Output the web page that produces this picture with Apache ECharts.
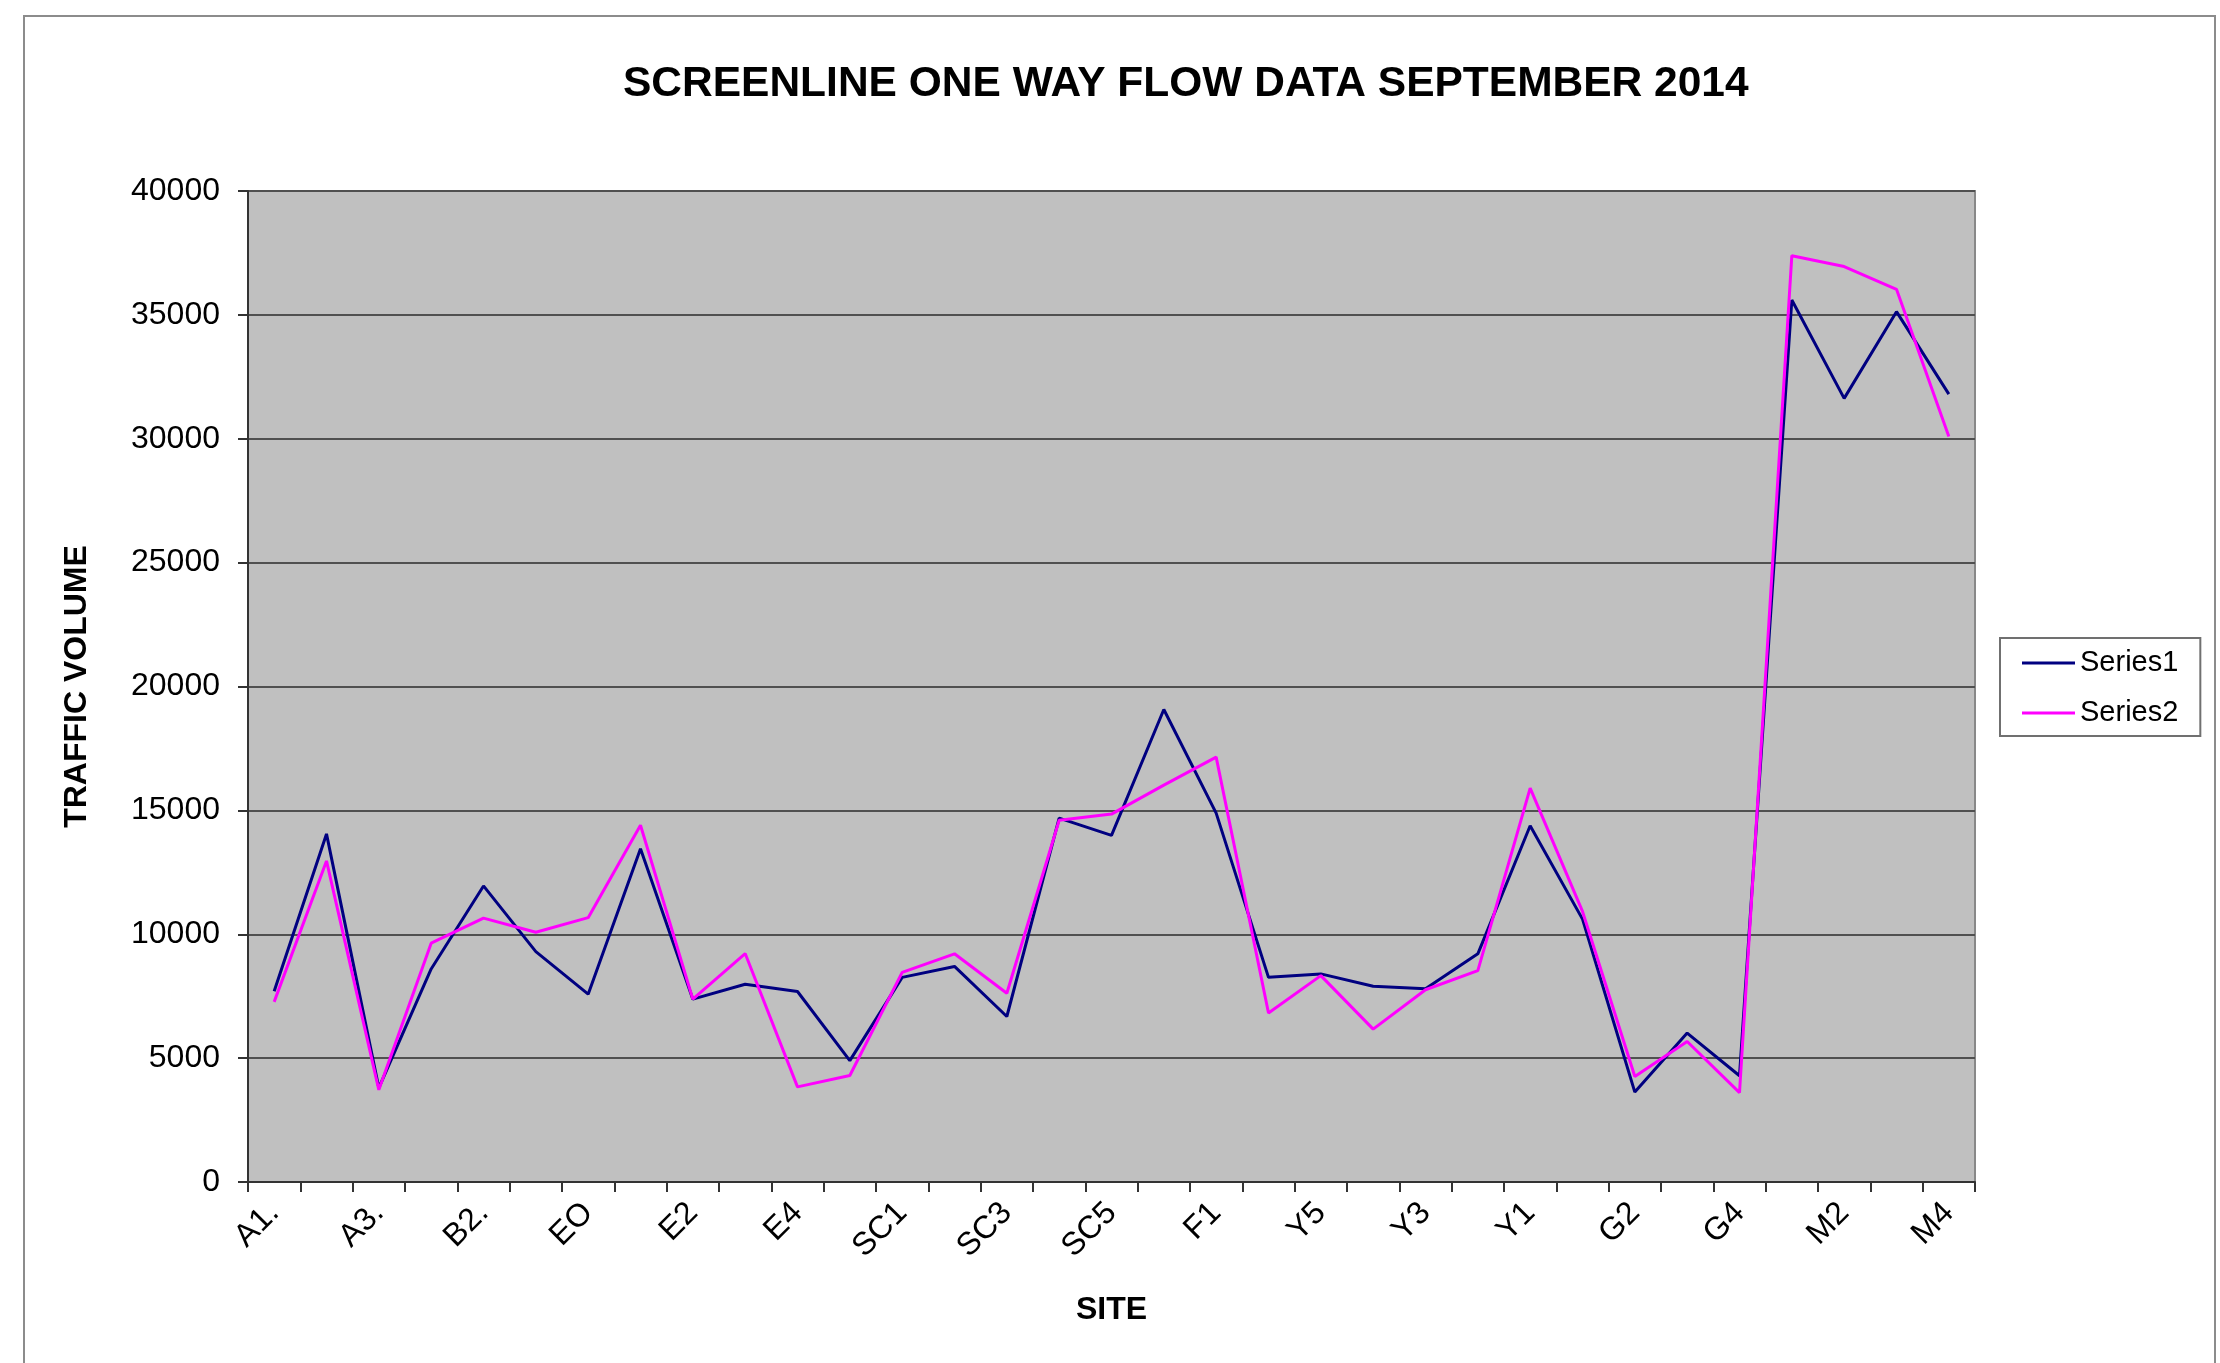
<!DOCTYPE html>
<html>
<head>
<meta charset="utf-8">
<title>Screenline one way flow data</title>
<script src="https://cdn.jsdelivr.net/npm/echarts@6/dist/echarts.min.js"></script>
<style>
  html, body { margin: 0; padding: 0; background: #fff; }
  #main { width: 2220px; height: 1363px; }
</style>
</head>
<body>
<div id="main"></div>
<script>
// sites (only every other one is labelled on the axis)
var sites = ['A1.', 'A2.', 'A3.', 'B1.', 'B2.', 'B3.', 'EO', 'E1', 'E2', 'E3', 'E4', 'E5',
  'SC1', 'SC2', 'SC3', 'SC4', 'SC5', 'SC6', 'F1', 'F2', 'Y5', 'Y4', 'Y3', 'Y2', 'Y1',
  'G1', 'G2', 'G3', 'G4', 'M1', 'M2', 'M3', 'M4'];

var series1 = [7700, 14050, 3800, 8600, 11950, 9300, 7580, 13450, 7380, 7980, 7690, 4900,
  8260, 8700, 6680, 14690, 13990, 19070, 14890, 8260, 8400, 7900, 7800, 9210, 14380,
  10610, 3630, 6010, 4290, 35600, 31630, 35130, 31800];

var series2 = [7270, 12960, 3720, 9640, 10650, 10080, 10670, 14400, 7380, 9220, 3840, 4300,
  8460, 9210, 7620, 14600, 14850, 16020, 17150, 6820, 8330, 6170, 7760, 8530, 15900,
  10920, 4260, 5670, 3610, 37390, 36950, 36030, 30090];

var seriesNames = ['Series1', 'Series2'];

var font = 'Liberation Sans, Arial, sans-serif';

var chart = echarts.init(document.getElementById('main'));

var option = {
  backgroundColor: '#ffffff',
  animation: false,
  title: {
    text: 'SCREENLINE ONE WAY FLOW DATA SEPTEMBER 2014',
    left: 618,
    top: 58,
    textStyle: { fontFamily: font, fontSize: 42.5, fontWeight: 'bold', color: '#000' }
  },
  // outer chart frame
  graphic: [{
    type: 'rect',
    shape: { x: 24, y: 16, width: 2191, height: 1400 },
    style: { fill: null, stroke: '#8c8c8c', lineWidth: 2 },
    silent: true
  }],
  legend: {
    orient: 'vertical',
    left: 2000,
    top: 638,
    padding: [10, 22, 8, 22],
    icon: 'rect',
    itemWidth: 53,
    itemHeight: 3,
    itemGap: 20,
    borderColor: '#707070',
    borderWidth: 2,
    backgroundColor: '#ffffff',
    textStyle: { fontFamily: font, fontSize: 29, color: '#000', lineHeight: 30 },
    data: seriesNames
  },
  grid: {
    left: 248,
    right: 245,
    top: 191,
    bottom: 181,
    show: true,
    backgroundColor: '#c0c0c0',
    borderColor: '#888888',
    borderWidth: 2
  },
  xAxis: {
    type: 'category',
    data: sites,
    boundaryGap: true,
    name: 'SITE',
    nameLocation: 'middle',
    nameGap: 112,
    nameTextStyle: { fontFamily: font, fontSize: 32, fontWeight: 'bold', color: '#000' },
    axisLine: { lineStyle: { color: '#333', width: 2 } },
    axisTick: { show: true, interval: 0, length: 10, lineStyle: { color: '#333', width: 2 } },
    axisLabel: {
      interval: 1,
      rotate: 45,
      margin: 26,
      fontFamily: font,
      fontSize: 32,
      color: '#000'
    }
  },
  yAxis: {
    type: 'value',
    min: 0,
    max: 40000,
    interval: 5000,
    name: 'TRAFFIC VOLUME',
    nameLocation: 'middle',
    nameGap: 155,
    nameTextStyle: { fontFamily: font, fontSize: 32, fontWeight: 'bold', color: '#000' },
    axisLine: { show: true, lineStyle: { color: '#333', width: 2 } },
    axisTick: { show: true, length: 10, lineStyle: { color: '#333', width: 2 } },
    axisLabel: {
      margin: 28,
      fontFamily: font,
      fontSize: 32,
      color: '#000',
      formatter: function (v) { return String(v); }
    },
    splitLine: { lineStyle: { color: '#505050', width: 2 } }
  },
  series: [
    {
      name: seriesNames[0],
      type: 'line',
      data: series1,
      symbol: 'none',
      lineStyle: { color: '#000080', width: 3 },
      itemStyle: { color: '#000080' }
    },
    {
      name: seriesNames[1],
      type: 'line',
      data: series2,
      symbol: 'none',
      lineStyle: { color: '#ff00ff', width: 3 },
      itemStyle: { color: '#ff00ff' }
    }
  ]
};

chart.setOption(option);
</script>
</body>
</html>
